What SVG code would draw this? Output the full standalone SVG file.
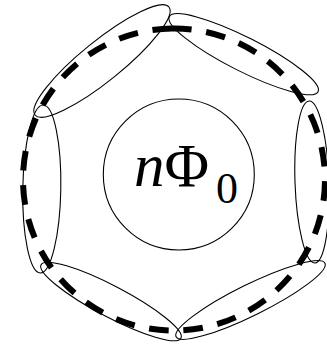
<svg xmlns="http://www.w3.org/2000/svg" width="327" height="347" viewBox="0 0 327 347">
<style>
.ell{fill:none;stroke:#000;stroke-width:1.1}
.dash{fill:none;stroke:#000;stroke-width:6;stroke-dasharray:20.725 15.544}
.lbl{font-family:"Liberation Serif","Times New Roman",serif;fill:#000}
</style>
<rect width="327" height="347" fill="#fff"/>
<g id="ellipses">
<g id="e-tl"><ellipse class="ell" cx="102" cy="61" rx="86" ry="20" transform="rotate(-38.9 102 61)"/></g>
<g id="e-tr"><ellipse class="ell" cx="243.7" cy="54.2" rx="83.3" ry="17" transform="rotate(26.8 243.7 54.2)"/></g>
<g id="e-r"><ellipse class="ell" cx="312" cy="182" rx="17" ry="81" transform="rotate(-2 312 182)"/></g>
<g id="e-br"><ellipse class="ell" cx="250.5" cy="300" rx="83" ry="15.5" transform="rotate(-26.3 250.5 300)"/></g>
<g id="e-bl"><ellipse class="ell" cx="111" cy="301.5" rx="79" ry="15.5" transform="rotate(27.7 111 301.5)"/></g>
<g id="e-l"><ellipse class="ell" cx="41.8" cy="189" rx="19" ry="84" transform="rotate(1 41.8 189)"/></g>
</g>
<g id="connectors">
<circle class="dash" cx="174" cy="179.5" r="151" pathLength="1000" transform="rotate(-90.76 174 179.5)"/>
</g>
<g id="flux">
<circle class="ell" cx="178.8" cy="174.5" r="75.5"/>
<text class="lbl" x="134" y="186" font-size="61"><tspan font-style="italic">n</tspan>Φ<tspan font-size="44" dx="7" dy="17">0</tspan></text>
</g>
</svg>
